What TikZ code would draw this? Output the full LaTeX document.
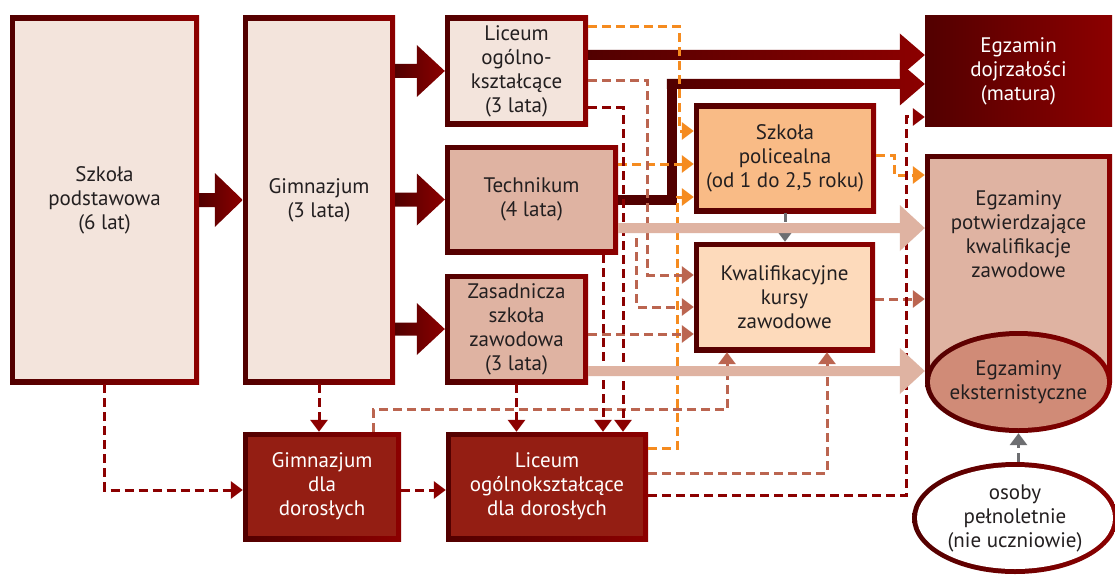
\documentclass[tikz,border=0pt]{standalone}
\usepackage{fontspec}
\setmainfont{PT Sans}
\usetikzlibrary{arrows.meta,shapes.geometric,calc}
\definecolor{dkA}{HTML}{520000}
\definecolor{rdB}{HTML}{8C0000}
\definecolor{pale}{HTML}{F3E4DC}
\definecolor{rose}{HTML}{DFB3A2}
\definecolor{peach}{HTML}{F9BB86}
\definecolor{cream}{HTML}{FDDABB}
\definecolor{adult}{HTML}{941E13}
\definecolor{extc}{HTML}{D08B77}
\definecolor{txt}{HTML}{231F20}
\definecolor{oran}{HTML}{F58B1F}
\definecolor{brn}{HTML}{BB6550}
\definecolor{dred}{HTML}{8B0000}
\definecolor{gry}{HTML}{6D6E71}
\tikzset{grad/.style={left color=dkA, right color=rdB}}
\newcommand{\blockarr}[5]{\shade[grad] let \p1=(#1), \p2=(#2) in (\x1,\y2+#3) -- (\x2-#5,\y2+#3) -- (\x2-#5,\y2+#4) -- (\x2,\y2) -- (\x2-#5,\y2-#4) -- (\x2-#5,\y2-#3) -- (\x1,\y2-#3) -- cycle;}
\newcommand{\bandarr}[6]{\fill[#6] let \p1=(#1), \p2=(#2) in (\x1,\y2+#3) -- (\x2-#5,\y2+#3) -- (\x2-#5,\y2+#4) -- (\x2,\y2) -- (\x2-#5,\y2-#4) -- (\x2-#5,\y2-#3) -- (\x1,\y2-#3) -- cycle;}
\begin{document}
\begin{tikzpicture}[x=1pt,y=-1pt,
  every node/.style={font=\fontsize{21}{24}\selectfont, text=txt, align=center, inner sep=0pt},
  gbox/.style={rectangle, grad,
    path picture={\fill[#1] ([shift={(5pt,-5pt)}]path picture bounding box.north west) rectangle ([shift={(-5pt,5pt)}]path picture bounding box.south east);}},
  ebox/.style n args={3}{ellipse, grad,
    path picture={\fill[#1] (path picture bounding box.center) ellipse [x radius=#2, y radius=#3];}},
  dsh/.style={dash pattern=on 9pt off 5pt, line width=3pt, -{Triangle[width=17pt,length=12pt]}},
  odsh/.style={dsh, draw=oran},
  bdsh/.style={dsh, draw=brn},
  ddsh/.style={dsh, draw=dred},
  gdsh/.style={dsh, draw=gry}
]
\fill[white] (0,0) rectangle (1115,575);
\useasboundingbox (0,0) rectangle (1115,575);

% boxes
\node[gbox=pale, minimum width=189pt, minimum height=368pt] (sp) at (104.5,200) {Szkoła\\podstawowa\\(6 lat)};
\node[gbox=pale, minimum width=152pt, minimum height=368pt] (gim) at (319,200) {Gimnazjum\\(3 lata)};
\node[gbox=pale, minimum width=143pt, minimum height=110pt] (lic) at (516.5,71) {Liceum\\ogólno-\\kształcące\\(3 lata)};
\node[gbox=rose, minimum width=173pt, minimum height=109pt] (tech) at (531.5,199.5) {Technikum\\(4 lata)};
\node[gbox=rose, minimum width=143pt, minimum height=110pt] (zsz) at (516.5,329) {Zasadnicza\\szkoła\\zawodowa\\(3 lata)};
\node[gbox=peach, minimum width=182pt, minimum height=109pt] (pol) at (785,158.5) {Szkoła\\policealna\\(od 1 do 2,5 roku)};
\node[gbox=cream, minimum width=181pt, minimum height=110pt] (kkz) at (784.5,297) {Kwalifikacyjne\\kursy\\zawodowe};
\node[rectangle, grad, text=white, minimum width=187pt, minimum height=110pt] (mat) at (1018.5,71) {Egzamin\\dojrzałości\\(matura)};
\node[gbox=rose, minimum width=187pt, minimum height=228pt, label={[yshift=34pt]center:Egzaminy\\potwierdzające\\kwalifikacje\\zawodowe}] (epk) at (1018.5,268) {};
\node[ebox={extc}{88.5pt}{46pt}, minimum width=187pt, minimum height=102pt, label={center:Egzaminy\\eksternistyczne}] (eks) at (1018.5,382) {};
\node[ebox={white}{98pt}{51pt}, minimum width=206pt, minimum height=112pt, label={center:osoby\\pełnoletnie\\(nie uczniowie)}] (osp) at (1015,518) {};
\node[gbox=adult, text=white, minimum width=158pt, minimum height=109pt] (gdd) at (322,486.5) {Gimnazjum\\dla\\dorosłych};
\node[gbox=adult, text=white, minimum width=202pt, minimum height=109pt] (ldd) at (547,486.5) {Liceum\\ogólnokształcące\\dla dorosłych};

% block arrows
\blockarr{sp.east}{gim.west}{7pt}{27pt}{28pt}
\blockarr{gim.east}{lic.west}{7pt}{26pt}{28pt}
\blockarr{gim.east}{tech.west}{7pt}{26pt}{28pt}
\blockarr{gim.east}{zsz.west}{6.5pt}{26pt}{28pt}

% thick lines to matura
\blockarr{[yshift=16pt]lic.east}{[yshift=16pt]mat.west}{5pt}{21.5pt}{25pt}
\coordinate (m2) at ([yshift=-13pt]mat.west);
\coordinate (t2c) at ([xshift=-253pt]m2);
\draw[line width=10pt, draw=dkA] ([yshift=-0.5pt]tech.east) -| (t2c);
\blockarr{[xshift=-5pt]t2c}{m2}{5pt}{21.5pt}{25pt}

% orange dashed
\draw[odsh] ([yshift=44pt]lic.east) -| ([xshift=-14pt,yshift=27.5pt]pol.west) -- ([yshift=27.5pt]pol.west);
\draw[odsh] ([yshift=35.5pt]tech.east) -- ([yshift=-5.5pt]pol.west);
\draw[odsh] ([yshift=38.5pt]ldd.east) -| ([xshift=-16pt,yshift=-38.5pt]pol.west) -- ([yshift=-38.5pt]pol.west);
\draw[odsh] ([yshift=3.5pt]pol.east) -- ++(18,0) |- ([yshift=93pt]epk.west);

% brown dashed
\draw[bdsh] ([yshift=-10pt]lic.east) -| ([xshift=-46pt,yshift=22pt]kkz.west) -- ([yshift=22pt]kkz.west);
\draw[bdsh] ([yshift=-29.5pt]tech.east) -| ([xshift=-57pt,yshift=-10pt]kkz.west) -- ([yshift=-10pt]kkz.west);
\draw[bdsh] ([yshift=-5pt]zsz.east) -- ([yshift=-37pt]kkz.west);
\draw[bdsh] ([xshift=51pt]gdd.north) -- ++(0,-22) -| ([xshift=-57.5pt]kkz.south);
\draw[bdsh] ([yshift=13.5pt]ldd.east) -| ([xshift=42.5pt]kkz.south);
\draw[bdsh] ([yshift=-2pt]kkz.east) -- ([yshift=-31pt]epk.west);

% dark red dashed
\draw[ddsh] (sp.south) |- ([yshift=-3.5pt]gdd.west);
\draw[ddsh] (gim.south) -- (gim.south |- gdd.north);
\draw[ddsh] ([yshift=-3.5pt]gdd.east) -- ([yshift=-3.5pt]ldd.west);
\draw[ddsh] (zsz.south) -- (zsz.south |- ldd.north);
\coordinate (d5) at ([xshift=71.5pt]tech.south);
\draw[ddsh] (d5) -- (d5 |- ldd.north);
\draw[ddsh] ([yshift=-37pt]lic.east) -| ([xshift=76pt]ldd.north);
\draw[ddsh] ([yshift=-8.5pt]ldd.east) -| ([xshift=-18pt,yshift=-46pt]mat.west) -- ([yshift=-46pt]mat.west);

% gray dashed
\draw[gdsh] (pol.south) -- (pol.south |- kkz.north);
\draw[gdsh] (eks.south |- osp.north) -- (eks.south);

% light bands
\bandarr{[yshift=-28.5pt]tech.east}{[yshift=40pt]epk.west}{5pt}{23pt}{25pt}{rose}
\bandarr{[yshift=-42pt]zsz.east}{[yshift=11pt]eks.west}{5pt}{23pt}{25pt}{rose}
\end{tikzpicture}
\end{document}
